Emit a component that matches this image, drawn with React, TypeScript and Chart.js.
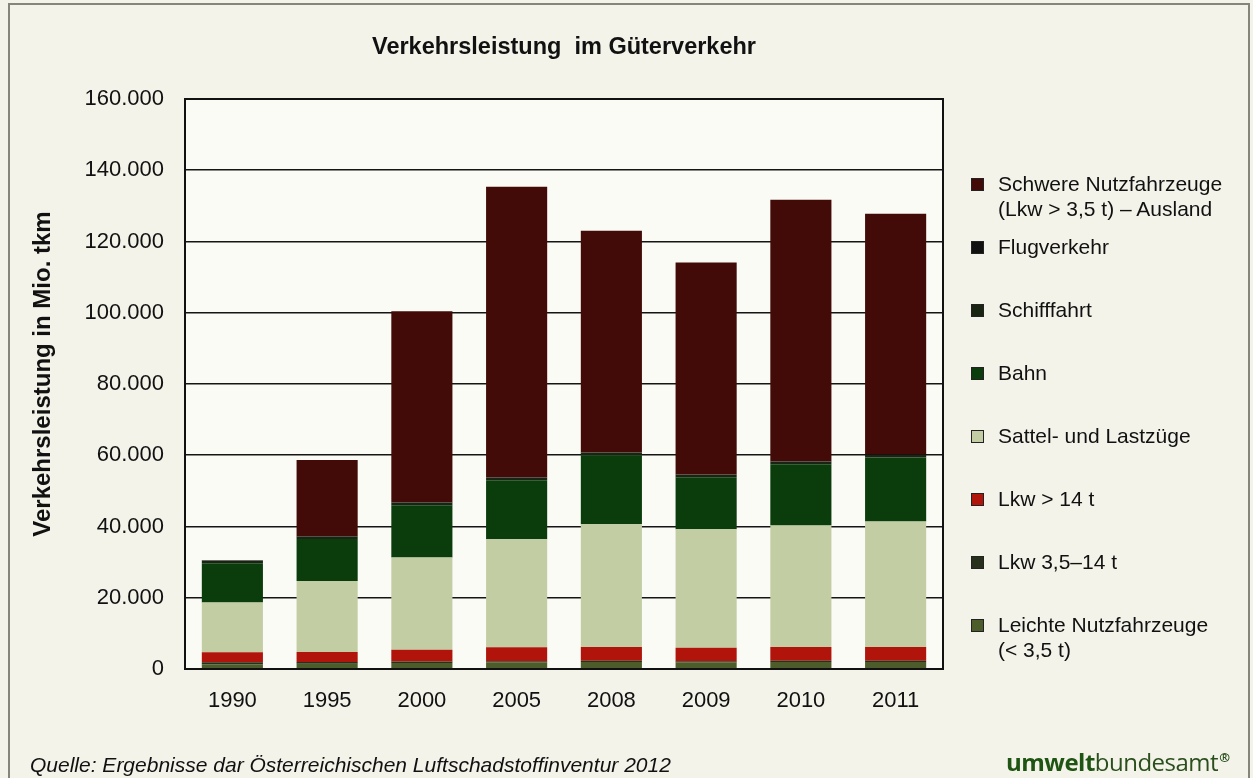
import React, { useEffect, useRef } from "react";
import { Chart, registerables } from "chart.js";

Chart.register(...registerables);

const categories = ["1990", "1995", "2000", "2005", "2008", "2009", "2010", "2011"];
const yTickLabels = ["0", "20.000", "40.000", "60.000", "80.000", "100.000", "120.000", "140.000", "160.000"];

const leichteNfz = [1300, 1500, 1700, 1900, 2000, 1900, 2000, 2000];
const lkw35bis14 = [600, 500, 400, 300, 300, 300, 300, 300];
const lkwUeber14 = [2800, 2800, 3300, 3900, 3900, 3800, 3900, 3900];
const sattelLastzuege = [14000, 19900, 25900, 30300, 34400, 33200, 34100, 35200];
const bahn = [11000, 11800, 14700, 16600, 19400, 14600, 17200, 18000];
const schifffahrt = [700, 700, 700, 700, 700, 700, 700, 700];
const flugverkehr = [100, 100, 100, 100, 100, 100, 100, 100];
const schwereAusland = [0, 21400, 53600, 81600, 62200, 59500, 73400, 67600];

const seriesLabels = [
  "Leichte Nutzfahrzeuge\n(< 3,5 t)",
  "Lkw 3,5–14 t",
  "Lkw > 14 t",
  "Sattel- und Lastzüge",
  "Bahn",
  "Schifffahrt",
  "Flugverkehr",
  "Schwere Nutzfahrzeuge\n(Lkw > 3,5 t) – Ausland",
];
const seriesValues = [leichteNfz, lkw35bis14, lkwUeber14, sattelLastzuege, bahn, schifffahrt, flugverkehr, schwereAusland];
const seriesColors = ["#4d5c2b", "#27301a", "#b0140b", "#c3cda4", "#0a3c0c", "#1a2412", "#111111", "#430b07"];

const FONT = "'Liberation Sans', Arial, Helvetica, sans-serif";

const plotDecor = {
  id: "plotDecor",
  beforeDraw(chart: any) {
    const { ctx, chartArea: a } = chart;
    ctx.save();
    ctx.fillStyle = "#fbfbf6";
    ctx.fillRect(a.left, a.top, a.right - a.left, a.bottom - a.top);
    ctx.restore();
  },
  afterDatasetsDraw(chart: any) {
    const { ctx, chartArea: a } = chart;
    ctx.save();
    ctx.strokeStyle = "#111";
    ctx.lineWidth = 2;
    ctx.strokeRect(a.left, a.top, a.right - a.left, a.bottom - a.top);
    ctx.restore();
  },
};

export default function App() {
  const canvasRef = useRef<HTMLCanvasElement>(null);

  useEffect(() => {
    document.body.style.margin = "0";
    const canvas = canvasRef.current!;
    const chart = new Chart(canvas, {
      type: "bar",
      data: {
        labels: categories,
        datasets: seriesValues.map((vals, i) => ({
          label: seriesLabels[i],
          data: vals,
          backgroundColor: seriesColors[i],
          borderWidth: 0,
          barPercentage: 0.645,
          categoryPercentage: 1,
        })),
      },
      options: {
        animation: false,
        responsive: false,
        devicePixelRatio: 1,
        layout: { padding: { left: 0, top: 99, right: 310, bottom: 0 } },
        plugins: {
          legend: { display: false },
          title: { display: false },
          tooltip: { enabled: false },
        },
        scales: {
          x: {
            stacked: true,
            grid: { display: false, drawTicks: false },
            border: { display: true, color: "#111", width: 2 },
            ticks: { color: "#111", font: { family: FONT, size: 22 }, padding: 19 },
            afterFit(scale: any) {
              scale.height = 109;
            },
          },
          y: {
            stacked: true,
            min: 0,
            max: 160000,
            grid: { color: "#151515", lineWidth: 1.6, drawTicks: false },
            border: { display: true, color: "#111", width: 2 },
            ticks: {
              stepSize: 20000,
              color: "#111",
              font: { family: FONT, size: 22 },
              padding: 21,
              callback: (_v: any, i: number) => yTickLabels[i],
            },
            afterFit(scale: any) {
              scale.width = 185;
            },
          },
        },
      },
      plugins: [plotDecor],
    });
    return () => chart.destroy();
  }, []);

  const legendOrder = seriesLabels.map((_, i) => i).reverse();

  return (
    <div
      style={{
        position: "fixed",
        left: 0,
        top: 0,
        width: 1253,
        height: 778,
        overflow: "hidden",
        background: "#f3f3ea",
        fontFamily: FONT,
        color: "#111",
      }}
    >
      <div
        style={{
          position: "absolute",
          left: 8,
          top: 3,
          width: 1238,
          height: 900,
          border: "2px solid #85857c",
        }}
      />
      <canvas ref={canvasRef} width={1253} height={778} style={{ position: "absolute", left: 0, top: 0, width: 1253, height: 778 }} />
      <div
        style={{
          position: "absolute",
          left: 185,
          width: 758,
          top: 32,
          lineHeight: "28px",
          textAlign: "center",
          fontWeight: "bold",
          fontSize: 23.5,
          whiteSpace: "pre",
        }}
      >
        {"Verkehrsleistung  im Güterverkehr"}
      </div>
      <div
        style={{
          position: "absolute",
          left: 42 - 200,
          top: 374 - 14,
          width: 400,
          height: 28,
          lineHeight: "28px",
          textAlign: "center",
          fontWeight: "bold",
          fontSize: 24,
          transform: "rotate(-90deg)",
          transformOrigin: "50% 50%",
          whiteSpace: "nowrap",
        }}
      >
        Verkehrsleistung in Mio. tkm
      </div>
      {legendOrder.map((si, k) => (
        <div
          key={si}
          style={{
            position: "absolute",
            left: 971,
            top: 183 - 12.5 + 63 * k,
            display: "flex",
            alignItems: "flex-start",
          }}
        >
          <div
            style={{
              width: 11,
              height: 11,
              marginTop: 7,
              background: seriesColors[si],
              border: "1px solid #222",
              flex: "none",
            }}
          />
          <div style={{ marginLeft: 14, fontSize: 21, lineHeight: "25px", whiteSpace: "pre-line" }}>{seriesLabels[si]}</div>
        </div>
      ))}
      <div
        style={{
          position: "absolute",
          left: 30,
          top: 752,
          fontSize: 21,
          lineHeight: "25px",
          fontStyle: "italic",
          whiteSpace: "nowrap",
        }}
      >
        Quelle: Ergebnisse dar Österreichischen Luftschadstoffinventur 2012
      </div>
      <div
        style={{
          position: "absolute",
          left: 1006,
          top: 743,
          fontSize: 24,
          lineHeight: "28px",
          fontFamily: "'Open Sans', 'Noto Sans', sans-serif",
          color: "#2a4f1c",
          whiteSpace: "nowrap",
          letterSpacing: -0.5,
        }}
      >
        <span style={{ fontWeight: "bold", color: "#1f5512" }}>umwelt</span>
        <span>bundesamt</span>
        <sup style={{ fontSize: 13, fontWeight: "bold", marginLeft: 1 }}>®</sup>
      </div>
    </div>
  );
}
